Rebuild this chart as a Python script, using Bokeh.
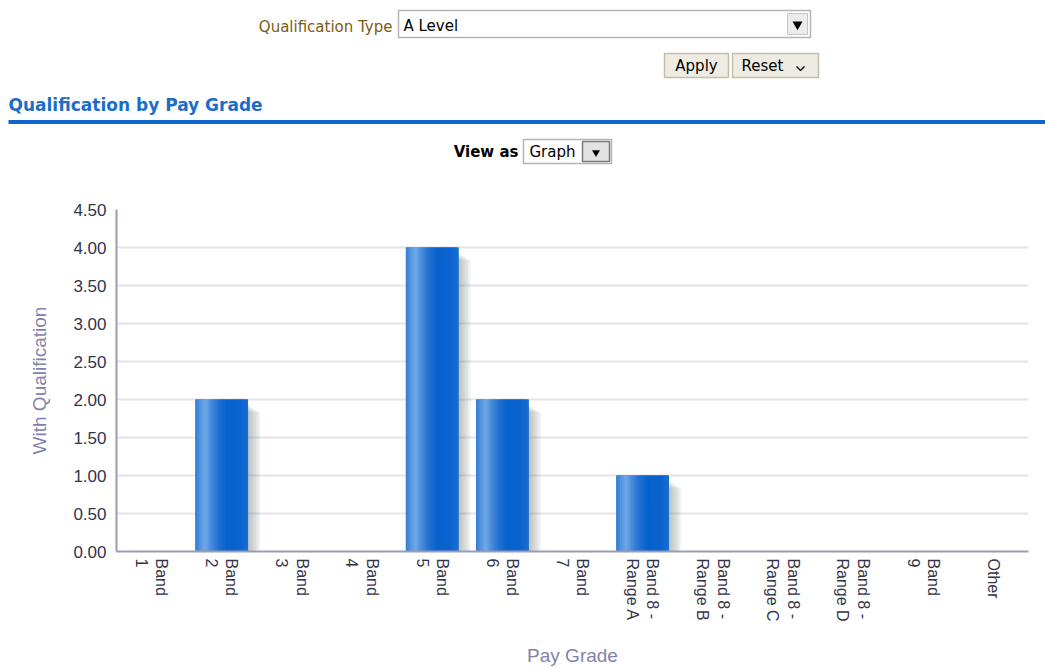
from bokeh.plotting import figure
from bokeh.models import (FactorRange, Range1d, ColumnDataSource, SingleIntervalTicker,
                          NumeralTickFormatter)
from bokeh.transform import dodge
from bokeh.layouts import column
from bokeh.core.properties import value
from bokeh.embed import file_html
from bokeh.resources import INLINE

# ---------------- data ----------------
pay_grades = ["Band\n1", "Band\n2", "Band\n3", "Band\n4", "Band\n5", "Band\n6", "Band\n7",
              "Band 8 -\nRange A", "Band 8 -\nRange B", "Band 8 -\nRange C",
              "Band 8 -\nRange D", "Band\n9", "Other"]
with_qualification = [0, 2, 0, 0, 4, 2, 0, 1, 0, 0, 0, 0, 0]

title_text = "Qualification by Pay Grade"
filter_label = "Qualification Type"
filter_value = "A Level"
view_label = "View as"
view_value = "Graph"
x_title = "Pay Grade"
y_title = "With Qualification"

# ---------------- header (pixel coordinates) ----------------
W = 1045
H1 = 170
hdr = figure(width=W, height=H1, x_range=Range1d(0, W), y_range=Range1d(H1, 0),
             output_backend="svg", toolbar_location=None, min_border=0)
hdr.axis.visible = False
hdr.grid.visible = False
hdr.outline_line_color = None
hdr.background_fill_color = "white"
hdr.border_fill_color = "white"

F = value("DejaVu Sans")
# Qualification Type select
hdr.text(x=[392], y=[26], text=[filter_label], text_align="right", text_baseline="middle",
         text_font=F, text_font_size="15px", text_color="#7a5c14")
hdr.quad(left=[398], right=[810], top=[10], bottom=[37], fill_color="white",
         line_color="#b4b4b4", line_width=1.5)
hdr.quad(left=[787], right=[807], top=[13], bottom=[34], fill_color="#ececec",
         line_color="#c4c4c4")
hdr.scatter(x=[797], y=[24], marker="inverted_triangle", size=10, fill_color="black",
            line_color=None)
hdr.text(x=[403], y=[25], text=[filter_value], text_align="left", text_baseline="middle",
         text_font=F, text_font_size="15px", text_color="black")

# Apply / Reset buttons
hdr.quad(left=[664, 732], right=[728, 818], top=[53, 53], bottom=[77, 77],
         fill_color="#eeece2", line_color="#c2bea8", line_width=1.5)
hdr.text(x=[696], y=[65], text=["Apply"], text_align="center", text_baseline="middle",
         text_font=F, text_font_size="15px", text_color="black")
hdr.text(x=[741], y=[65], text=["Reset"], text_align="left", text_baseline="middle",
         text_font=F, text_font_size="15px", text_color="black")
hdr.line(x=[796, 800, 804], y=[66, 70, 66], line_color="black", line_width=1.3)

# Section title and rule
hdr.text(x=[8], y=[104], text=[title_text], text_align="left", text_baseline="middle",
         text_font=F, text_font_size="17px", text_font_style="bold", text_color="#1c6dc9")
hdr.quad(left=[8], right=[W], top=[119.5], bottom=[123.5], fill_color="#0f66cc",
         line_color=None)

# View as select
hdr.text(x=[518], y=[151], text=[view_label], text_align="right", text_baseline="middle",
         text_font=F, text_font_size="15px", text_font_style="bold", text_color="black")
hdr.quad(left=[523], right=[611], top=[139], bottom=[163], fill_color="white",
         line_color="#b4b4b4", line_width=1.5)
hdr.quad(left=[582], right=[609], top=[141], bottom=[161], fill_color="#e2e2e2",
         line_color="#7a7a7a", line_width=1.5)
hdr.scatter(x=[595.5], y=[152], marker="inverted_triangle", size=8, fill_color="black",
            line_color=None)
hdr.text(x=[529], y=[151], text=[view_value], text_align="left", text_baseline="middle",
         text_font=F, text_font_size="15px", text_color="black")

# ---------------- chart ----------------
H2 = 668 - H1
p = figure(width=W, height=H2, x_range=FactorRange(factors=pay_grades),
           y_range=Range1d(0, 4.5), output_backend="svg", toolbar_location=None,
           min_border_left=116, min_border_right=17, min_border_top=39,
           min_border_bottom=117)
p.outline_line_color = None
p.background_fill_color = "white"
p.border_fill_color = "white"
p.xgrid.grid_line_color = None
p.ygrid.grid_line_color = "#e4e4ec"
p.ygrid.grid_line_width = 2

for fig in (hdr, p):
    try:
        fig.frame_align = False
    except Exception:
        pass

src = ColumnDataSource(dict(grade=pay_grades, val=with_qualification))

BW = 0.75
# drop shadow (soft, to the right and slightly below the top)
for k in range(1, 10):
    sw = 0.022 * k
    p.vbar(x=dodge("grade", BW / 2 - 0.02 + sw / 2, range=p.x_range), width=sw,
           top=dodge("val", -0.06 - 0.012 * k, range=p.y_range), bottom=0, source=src,
           fill_color="#7a808c", fill_alpha=0.075, line_color=None)

# base bar
p.vbar(x="grade", width=BW, top="val", bottom=0, source=src,
       fill_color="#0a63ce", line_color=None)

# horizontal gradient of the bar face
stops = [(0.0, (0x2e, 0x78, 0xd6)), (0.12, (0x5a, 0x99, 0xe0)), (0.2, (0x6e, 0xaa, 0xe8)),
         (0.3, (0x4a, 0x8c, 0xdc)), (0.45, (0x20, 0x70, 0xd3)), (0.6, (0x08, 0x62, 0xcd)),
         (0.85, (0x0a, 0x63, 0xce)), (1.0, (0x1c, 0x6d, 0xd2))]


def grad(t):
    for (t0, c0), (t1, c1) in zip(stops[:-1], stops[1:]):
        if t0 <= t <= t1:
            f = (t - t0) / (t1 - t0)
            return "#%02x%02x%02x" % tuple(int(round(a + (b - a) * f)) for a, b in zip(c0, c1))
    return "#%02x%02x%02x" % stops[-1][1]


N = 24
sw = BW / N
for i in range(N):
    t = (i + 0.5) / N
    w = sw * 1.6 if 0 < i < N - 1 else sw
    p.vbar(x=dodge("grade", -BW / 2 + (i + 0.5) * sw, range=p.x_range), width=w,
           top="val", bottom=0, source=src, fill_color=grad(t), line_color=None)

# axes
AX = "#9c9cb4"
p.yaxis.ticker = SingleIntervalTicker(interval=0.5, num_minor_ticks=0)
p.ygrid.ticker = SingleIntervalTicker(interval=0.5, num_minor_ticks=0)
p.yaxis.formatter = NumeralTickFormatter(format="0.00")
p.xaxis.major_label_orientation = -1.5707963267948966

for ax in (p.xaxis, p.yaxis):
    ax.axis_line_color = AX
    ax.axis_line_width = 2
    ax.major_tick_line_color = None
    ax.minor_tick_line_color = None
    ax.major_tick_out = 0
    ax.major_tick_in = 0
    ax.minor_tick_out = 0
    ax.major_label_text_font = "Liberation Sans"
    ax.major_label_text_color = "#34344a"
    ax.axis_label_text_font = "Liberation Sans"
    ax.axis_label_text_font_style = "normal"
    ax.axis_label_text_color = "#8282ac"
    ax.axis_label_text_font_size = "19px"

p.yaxis.major_label_text_font_size = "17px"
p.xaxis.major_label_text_font_size = "16px"
p.yaxis.major_label_standoff = 10
p.xaxis.major_label_standoff = 7
p.yaxis.axis_label = y_title
p.xaxis.axis_label = x_title
p.yaxis.axis_label_standoff = 20
p.xaxis.axis_label_standoff = 20

layout = column(hdr, p, spacing=0)
open("out.html", "w").write(file_html(layout, INLINE))
